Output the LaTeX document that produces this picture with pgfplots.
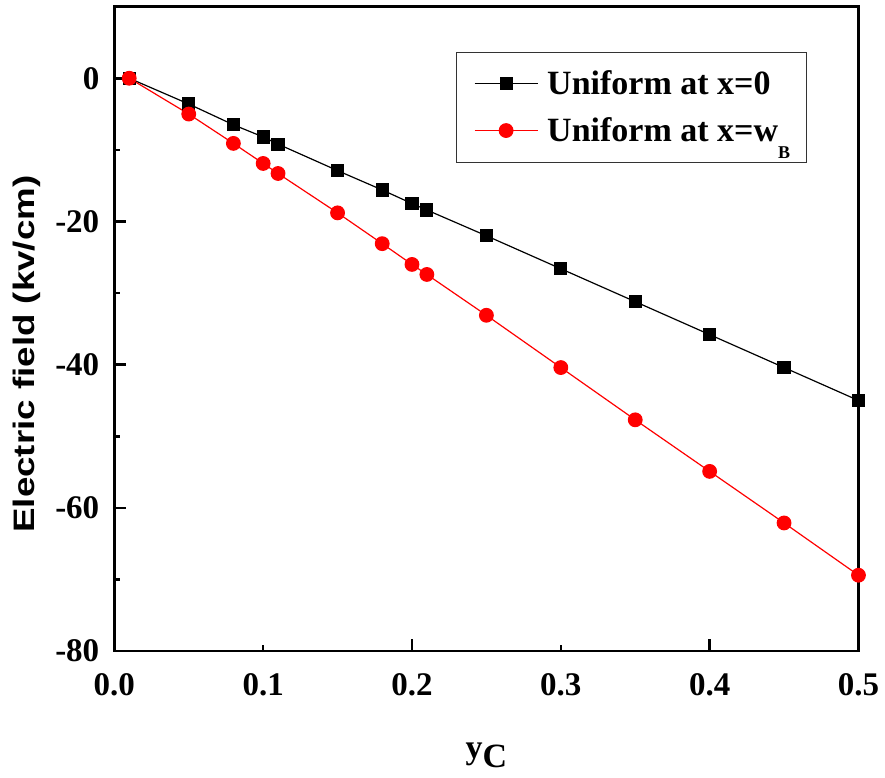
\documentclass[border=0pt]{standalone}
\usepackage{fontspec}
\setmainfont{Liberation Serif}
\setsansfont{Liberation Sans}
\usepackage{graphicx}
\usepackage{pgfplots}
\pgfplotsset{compat=1.18}

% legend entry: short line with the mark in the middle, with some room around it
\pgfplotsset{
  longlegend/.style={
    legend image code/.code={
      \path (-2.5pt,0pt) (34pt,0pt);
      \draw[mark repeat=2,mark phase=2,##1]
        plot coordinates {(0pt,0pt) (15.75pt,0pt) (31.5pt,0pt)};
    }
  }
}

\begin{document}
\begin{tikzpicture}
\begin{axis}[
  scale only axis,
  width=372pt, height=322.2pt,
  xmin=0, xmax=0.5, ymin=-80, ymax=10,
  axis line style={line width=1.3pt},
  tick style={line width=1.3pt, black},
  tick align=inside,
  xtick pos=bottom, ytick pos=left,
  major tick length=6pt, minor tick length=3pt,
  xtick={0,0.2,0.4}, minor xtick={0.1,0.3,0.5},
  extra x ticks={0.1,0.3,0.5},
  extra x tick style={tick style={draw=none}},
  ytick={-80,-60,-40,-20,0}, minor ytick={-70,-50,-30,-10},
  /pgf/number format/assume math mode=true,
  xticklabel style={yshift=-7.5pt, /pgf/number format/.cd, fixed, fixed zerofill, precision=1},
  yticklabel style={xshift=-4pt},
  ticklabel style={font=\fontsize{16.5}{18}\selectfont\bfseries},
  xlabel={y\raisebox{-0.27em}{C}},
  xlabel style={at={(axis description cs:0.5,0)}, anchor=base, yshift=-53.5pt,
    font=\fontsize{17}{20}\selectfont\bfseries},
  ylabel={\scalebox{1.24}[1]{Electric field (kv/cm)}},
  ylabel style={at={([xshift=-43.6pt]axis description cs:0,0.461)}, anchor=center,
    font=\fontsize{14.8}{17}\selectfont\sffamily\bfseries},
  legend cell align=left,
  legend style={at={(axis description cs:1,1)}, anchor=north east,
    xshift=-25.9pt, yshift=-22.5pt,
    draw=black!80, line width=0.5pt,
    font=\fontsize{17}{21}\selectfont\bfseries,
    inner xsep=6pt, inner ysep=7pt, row sep=6pt},
  clip=false,
]
\addplot[black, line width=0.6pt, mark=square*, mark size=3pt, longlegend]
  coordinates {
  (0.01,0) (0.05,-3.6) (0.08,-6.5) (0.10,-8.2) (0.11,-9.2) (0.15,-12.9)
  (0.18,-15.6) (0.20,-17.5) (0.21,-18.4) (0.25,-22.0) (0.30,-26.6)
  (0.35,-31.2) (0.40,-35.8) (0.45,-40.4) (0.50,-45.0)
  };
\addlegendentry{Uniform at x=0}
\addplot[red, line width=0.6pt, mark=*, mark size=3.4pt, mark options={fill=red, draw=red}, longlegend]
  coordinates {
  (0.01,0) (0.05,-5.0) (0.08,-9.1) (0.10,-11.9) (0.11,-13.3) (0.15,-18.8)
  (0.18,-23.1) (0.20,-26.0) (0.21,-27.4) (0.25,-33.1) (0.30,-40.4)
  (0.35,-47.7) (0.40,-54.9) (0.45,-62.1) (0.50,-69.4)
  };
\addlegendentry{Uniform at x=w\raisebox{-0.5em}{\fontsize{9}{9}\selectfont B}}
\end{axis}
\pgfresetboundingbox
\path (-57.15pt,-63pt) rectangle (385.25pt,325.5pt);
\end{tikzpicture}
\end{document}
